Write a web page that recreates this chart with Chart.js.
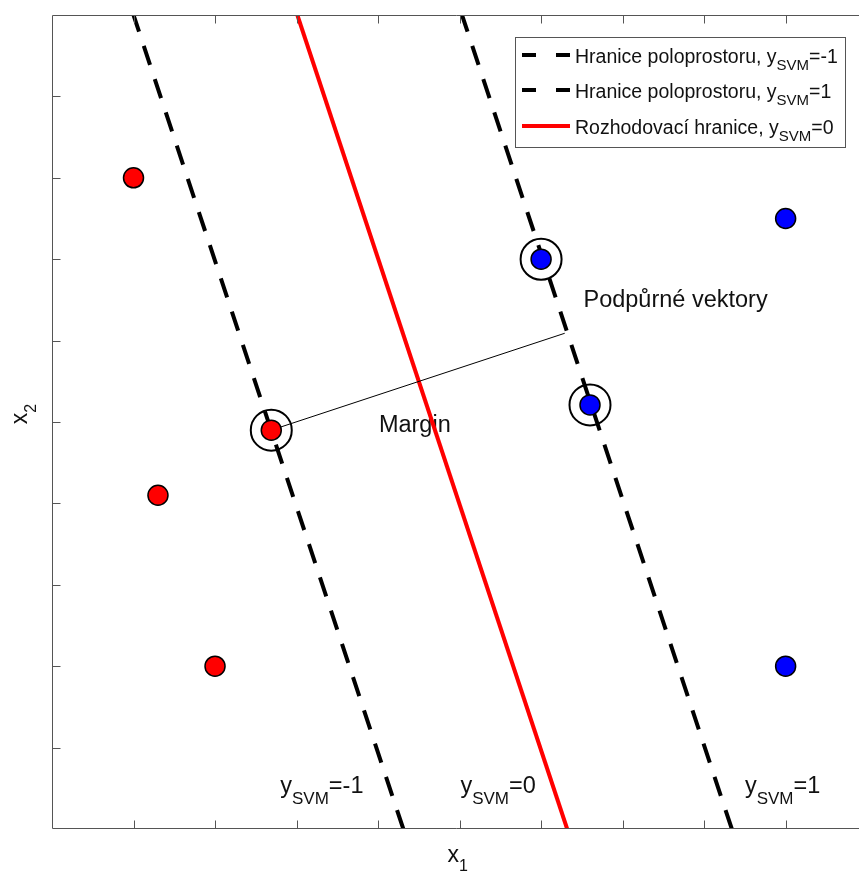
<!DOCTYPE html>
<html>
<head>
<meta charset="utf-8">
<script src="https://cdn.jsdelivr.net/npm/chart.js@4.4.0/dist/chart.umd.min.js"></script>
<style>
html, body { margin: 0; padding: 0; background: #fff; overflow: hidden; }
#wrap { width: 859px; height: 875px; position: relative; }
canvas { display: block; }
</style>
</head>
<body>
<div id="wrap"><canvas id="myChart"></canvas></div>
<script>
// axis ranges and tick positions (no tick labels in the original)
const xMin = 0, xMax = 9.9;
const yMin = 0, yMax = 10;
const xTicks = [1, 2, 3, 4, 5, 6, 7, 8, 9];
const yTicks = [1, 2, 3, 4, 5, 6, 7, 8, 9];

// class -1 (red) and class +1 (blue) samples
const redX = [1.0, 1.3, 2.0, 2.69];
const redY = [8.0, 4.1, 2.0, 4.9];
const blueX = [6.0, 6.6, 9.0, 9.0];
const blueY = [7.0, 5.21, 7.5, 2.0];

// support vectors (ringed)
const svX = [2.69, 6.0, 6.6];
const svY = [4.9, 7.0, 5.21];

// boundaries: x at y = 0 and y = 10
const lineY = [0, 10];
const boundMinusX = [4.31, 1.0];
const boundZeroX = [6.32, 3.01];
const boundPlusX = [8.34, 5.03];

// margin segment
const marginX = [2.69, 6.29];
const marginY = [4.9, 6.09];

// annotations in data units (left / baseline)
const noteText = ['y_{SVM}=-1', 'y_{SVM}=0', 'y_{SVM}=1', 'Margin', 'Podpůrné vektory'];
const noteX = [2.80, 5.01, 8.50, 4.01, 6.52];
const noteY = [0.44, 0.44, 0.44, 4.88, 6.41];

const legendLabels = [
    'Hranice poloprostoru, y_{SVM}=-1',
    'Hranice poloprostoru, y_{SVM}=1',
    'Rozhodovací hranice, y_{SVM}=0'
];
const xLabel = 'x_{1}';
const yLabel = 'x_{2}';

const FONT = '"Liberation Sans", Arial, sans-serif';
const AXIS_COLOR = '#555';
const TEXT_COLOR = '#111';

function toPoints(xs, ys) {
    return xs.map((x, i) => ({ x: x, y: ys[i] }));
}

// text with _{...} subscripts
function richWidth(ctx, str, size, subSize) {
    const parts = str.split(/_\{([^}]*)\}/);
    let w = 0;
    parts.forEach((p, i) => {
        if (!p) return;
        ctx.font = (i % 2 ? subSize : size) + 'px ' + FONT;
        w += ctx.measureText(p).width;
    });
    return w;
}

function drawRich(ctx, str, x, y, size, subSize, subShift) {
    const parts = str.split(/_\{([^}]*)\}/);
    let cx = x;
    parts.forEach((p, i) => {
        if (!p) return;
        const sub = i % 2 === 1;
        ctx.font = (sub ? subSize : size) + 'px ' + FONT;
        ctx.fillText(p, cx, sub ? y + subShift : y);
        cx += ctx.measureText(p).width;
    });
    return cx - x;
}

const notesPlugin = {
    id: 'notes',
    beforeDatasetsDraw(chart) {
        const ctx = chart.ctx;
        const xs = chart.scales.x, ys = chart.scales.y;
        ctx.save();
        ctx.fillStyle = TEXT_COLOR;
        ctx.textBaseline = 'alphabetic';
        ctx.textAlign = 'left';
        noteText.forEach((t, i) => {
            drawRich(ctx, t, xs.getPixelForValue(noteX[i]), ys.getPixelForValue(noteY[i]), 23.5, 17, 11);
        });
        ctx.restore();
    }
};

const framePlugin = {
    id: 'frame',
    afterDraw(chart) {
        const ctx = chart.ctx;
        const a = chart.chartArea;
        const xs = chart.scales.x, ys = chart.scales.y;
        ctx.save();
        ctx.strokeStyle = AXIS_COLOR;
        ctx.lineWidth = 1;
        ctx.beginPath();
        const L = Math.round(a.left) + 0.5, T = Math.round(a.top) + 0.5, B = Math.round(a.bottom) - 0.5;
        ctx.moveTo(a.right + 1, T);
        ctx.lineTo(L, T);
        ctx.lineTo(L, B);
        ctx.lineTo(a.right + 1, B);
        xTicks.forEach(v => {
            const px = Math.round(xs.getPixelForValue(v)) + 0.5;
            ctx.moveTo(px, B); ctx.lineTo(px, B - 8);
            ctx.moveTo(px, T); ctx.lineTo(px, T + 8);
        });
        yTicks.forEach(v => {
            const py = Math.round(ys.getPixelForValue(v)) + 0.5;
            ctx.moveTo(L, py); ctx.lineTo(L + 8, py);
        });
        ctx.stroke();

        // axis labels
        ctx.fillStyle = TEXT_COLOR;
        ctx.textBaseline = 'alphabetic';
        const cx = xs.getPixelForValue(5);
        const wx = richWidth(ctx, xLabel, 23, 16);
        drawRich(ctx, xLabel, cx - wx / 2 - 2, a.bottom + 33, 23, 16, 9);

        const cy = ys.getPixelForValue(5);
        const wy = richWidth(ctx, yLabel, 23, 16);
        ctx.translate(27, cy);
        ctx.rotate(-Math.PI / 2);
        drawRich(ctx, yLabel, -wy / 2 + 8, 0, 23, 16, 9);
        ctx.restore();

        // legend
        ctx.save();
        const bx = 515.5, by = 37.5, bw = 330, bh = 110;
        ctx.fillStyle = '#fff';
        ctx.fillRect(bx, by, bw, bh);
        ctx.strokeStyle = AXIS_COLOR;
        ctx.lineWidth = 1;
        ctx.strokeRect(bx, by, bw, bh);
        const rows = [55, 90, 126];
        legendLabels.forEach((lab, i) => {
            const d = chart.data.datasets.find(s => s.label === lab);
            ctx.strokeStyle = d.borderColor;
            ctx.lineWidth = 4;
            ctx.setLineDash(d.borderDash ? [14, 20] : []);
            ctx.beginPath();
            ctx.moveTo(522, rows[i]);
            ctx.lineTo(570, rows[i]);
            ctx.stroke();
            ctx.setLineDash([]);
            ctx.fillStyle = TEXT_COLOR;
            drawRich(ctx, lab, 575, rows[i] + 8, 19.5, 15, 7);
        });
        ctx.restore();
    }
};

const pointStyle = {
    showLine: false,
    pointRadius: 10,
    pointHoverRadius: 10,
    pointBorderColor: '#000',
    pointBorderWidth: 1.5
};

const ctx = document.getElementById('myChart');
new Chart(ctx, {
    type: 'scatter',
    data: {
        datasets: [
            Object.assign({ data: toPoints(redX, redY), pointBackgroundColor: '#ff0000' }, pointStyle),
            Object.assign({ data: toPoints(blueX, blueY), pointBackgroundColor: '#0000ff' }, pointStyle),
            {
                data: toPoints(svX, svY),
                showLine: false,
                pointRadius: 20.5,
                pointBackgroundColor: 'rgba(0,0,0,0)',
                pointBorderColor: '#000',
                pointBorderWidth: 2
            },
            {
                data: toPoints(marginX, marginY),
                showLine: true,
                borderColor: '#000',
                borderWidth: 1,
                pointRadius: 0
            },
            {
                label: legendLabels[2],
                data: toPoints(boundZeroX, lineY),
                showLine: true,
                borderColor: '#ff0000',
                borderWidth: 4,
                pointRadius: 0
            },
            {
                label: legendLabels[1],
                data: toPoints(boundPlusX, lineY),
                showLine: true,
                borderColor: '#000',
                borderWidth: 4,
                borderDash: [20, 15],
                pointRadius: 0
            },
            {
                label: legendLabels[0],
                data: toPoints(boundMinusX, lineY),
                showLine: true,
                borderColor: '#000',
                borderWidth: 4,
                borderDash: [20, 15],
                pointRadius: 0
            }
        ]
    },
    options: {
        responsive: true,
        maintainAspectRatio: false,
        animation: false,
        layout: { autoPadding: false, padding: { left: 52, top: 15, right: 0, bottom: 46 } },
        plugins: {
            legend: { display: false },
            tooltip: { enabled: false }
        },
        scales: {
            x: { type: 'linear', min: xMin, max: xMax, display: false },
            y: { type: 'linear', min: yMin, max: yMax, display: false }
        }
    },
    plugins: [notesPlugin, framePlugin]
});
</script>
</body>
</html>
